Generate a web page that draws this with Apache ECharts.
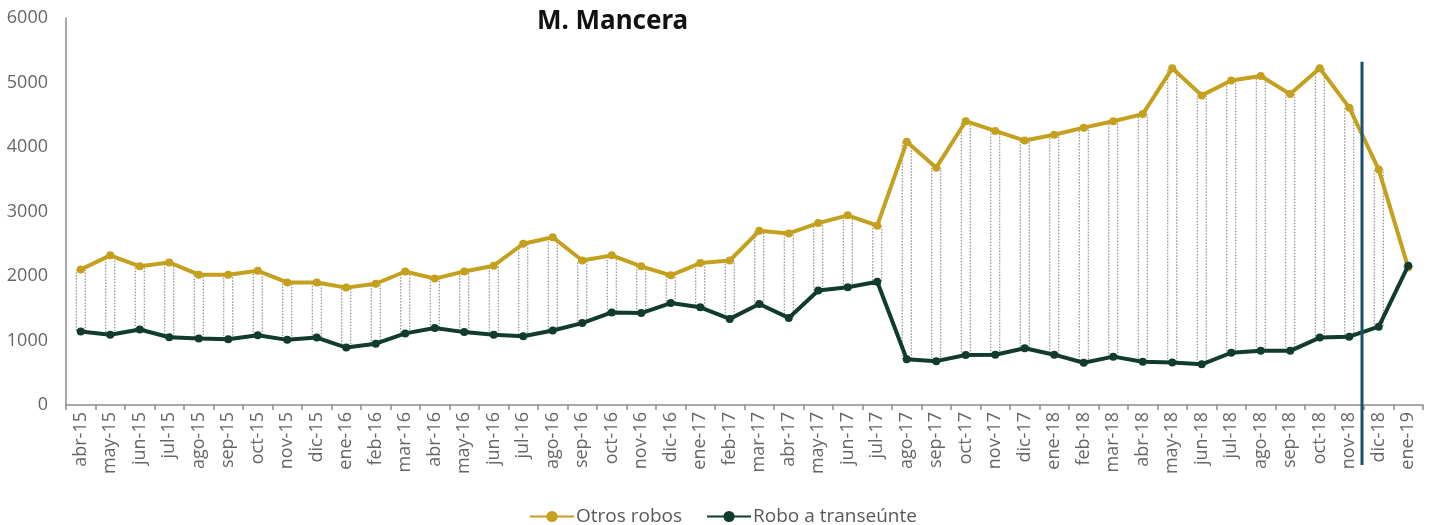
<!DOCTYPE html>
<html>
<head>
<meta charset="utf-8">
<script src="https://cdn.jsdelivr.net/npm/echarts@6/dist/echarts.min.js"></script>
<style>
  html, body { margin: 0; padding: 0; background: #ffffff; }
  #chart { width: 1435px; height: 525px; }
</style>
</head>
<body>
<div id="chart"></div>
<script>
// Months, April 2015 to January 2019
const categories = [
  'abr-15','may-15','jun-15','jul-15','ago-15','sep-15','oct-15','nov-15','dic-15',
  'ene-16','feb-16','mar-16','abr-16','may-16','jun-16','jul-16','ago-16','sep-16','oct-16','nov-16','dic-16',
  'ene-17','feb-17','mar-17','abr-17','may-17','jun-17','jul-17','ago-17','sep-17','oct-17','nov-17','dic-17',
  'ene-18','feb-18','mar-18','abr-18','may-18','jun-18','jul-18','ago-18','sep-18','oct-18','nov-18','dic-18',
  'ene-19'
];

// Monthly counts per crime type
const otrosRobos = [
  2100, 2320, 2150, 2210, 2020, 2020, 2080, 1900, 1900,
  1820, 1880, 2070, 1960, 2070, 2160, 2500, 2600, 2240, 2320, 2150, 2010,
  2200, 2240, 2700, 2660, 2820, 2940, 2780, 4080, 3680, 4400, 4250, 4100,
  4190, 4300, 4400, 4510, 5220, 4800, 5030, 5100, 4820, 5220, 4610, 3650,
  2130
];

const roboTranseunte = [
  1140, 1090, 1170, 1050, 1030, 1020, 1080, 1010, 1045,
  890, 950, 1110, 1195, 1130, 1090, 1065, 1155, 1270, 1435, 1425, 1580,
  1515, 1335, 1565, 1350, 1775, 1825, 1910, 710, 680, 775, 780, 880,
  780, 655, 750, 670, 660, 630, 810, 840, 840, 1045, 1060, 1215,
  2160
];

// Month after which the vertical separator is drawn, and its top value
const separatorAfter = 'nov-18';
const separatorTop = 5320;

// High-low bars between the two series
const spanBase = otrosRobos.map((v, i) => Math.min(v, roboTranseunte[i]));
const spanSize = otrosRobos.map((v, i) => Math.abs(v - roboTranseunte[i]));

const GOLD = '#c4a01c';
const GREEN = '#113b2c';
const FONT = '"Open Sans", "Noto Sans", sans-serif';

const chart = echarts.init(document.getElementById('chart'), null, { renderer: 'canvas' });

chart.setOption({
  backgroundColor: '#ffffff',
  animation: false,
  title: {
    text: 'M. Mancera',
    left: 532,
    top: 4,
    textStyle: { fontFamily: '"Noto Sans", sans-serif', fontWeight: 'bold', fontSize: 26, color: '#111111' }
  },
  legend: {
    data: ['Otros robos', 'Robo a transeúnte'],
    left: 524,
    top: 502,
    itemWidth: 44,
    itemHeight: 14,
    itemGap: 24,
    textStyle: { fontFamily: FONT, fontSize: 19, color: '#595959', padding: [0, 0, 0, -3] }
  },
  grid: { left: 66, right: 12, top: 18, bottom: 120 },
  xAxis: {
    type: 'category',
    data: categories,
    boundaryGap: true,
    axisLine: { lineStyle: { color: '#8c8c8c', width: 1.5 } },
    axisTick: { show: true, interval: 0, length: 5, lineStyle: { color: '#8c8c8c', width: 1.5 } },
    axisLabel: { interval: 0, rotate: 90, margin: 7, fontFamily: FONT, fontSize: 18, color: '#666666' },
    splitLine: { show: false }
  },
  yAxis: {
    type: 'value',
    min: 0,
    max: 6000,
    interval: 1000,
    axisLine: { show: true, lineStyle: { color: '#8c8c8c', width: 1.5 } },
    axisTick: { show: false },
    axisLabel: {
      margin: 18,
      fontFamily: FONT,
      fontSize: 18,
      color: '#666666',
      formatter: (v) => String(v)
    },
    splitLine: { show: false }
  },
  series: [
    {
      name: 'base',
      type: 'bar',
      stack: 'span',
      data: spanBase,
      barWidth: 10,
      silent: true,
      itemStyle: { color: 'rgba(0,0,0,0)' },
      z: 1
    },
    {
      name: 'span',
      type: 'bar',
      stack: 'span',
      data: spanSize,
      barWidth: 10,
      silent: true,
      itemStyle: {
        color: '#ffffff',
        borderColor: '#7a7a7a',
        borderWidth: 1,
        borderType: [1.5, 1.5]
      },
      z: 1
    },
    {
      name: 'Otros robos',
      type: 'line',
      data: otrosRobos,
      symbol: 'circle',
      symbolSize: 8,
      itemStyle: { color: GOLD },
      lineStyle: { color: GOLD, width: 4 },
      z: 3
    },
    {
      name: 'Robo a transeúnte',
      type: 'line',
      data: roboTranseunte,
      symbol: 'circle',
      symbolSize: 8,
      itemStyle: { color: GREEN },
      lineStyle: { color: GREEN, width: 4 },
      z: 4
    }
  ]
});

// Vertical separator at the boundary between two months
const idx = categories.indexOf(separatorAfter);
const xa = chart.convertToPixel({ xAxisIndex: 0 }, categories[idx]);
const xb = chart.convertToPixel({ xAxisIndex: 0 }, categories[idx + 1]);
const xSep = (xa + xb) / 2 - 2;
const yTop = chart.convertToPixel({ yAxisIndex: 0 }, separatorTop);
const yAxisBase = chart.convertToPixel({ yAxisIndex: 0 }, 0);

chart.setOption({
  graphic: [{
    type: 'line',
    shape: { x1: xSep, y1: yTop, x2: xSep, y2: yAxisBase + 60 },
    style: { stroke: '#19506f', lineWidth: 3 },
    z: 100
  }]
});
</script>
</body>
</html>
